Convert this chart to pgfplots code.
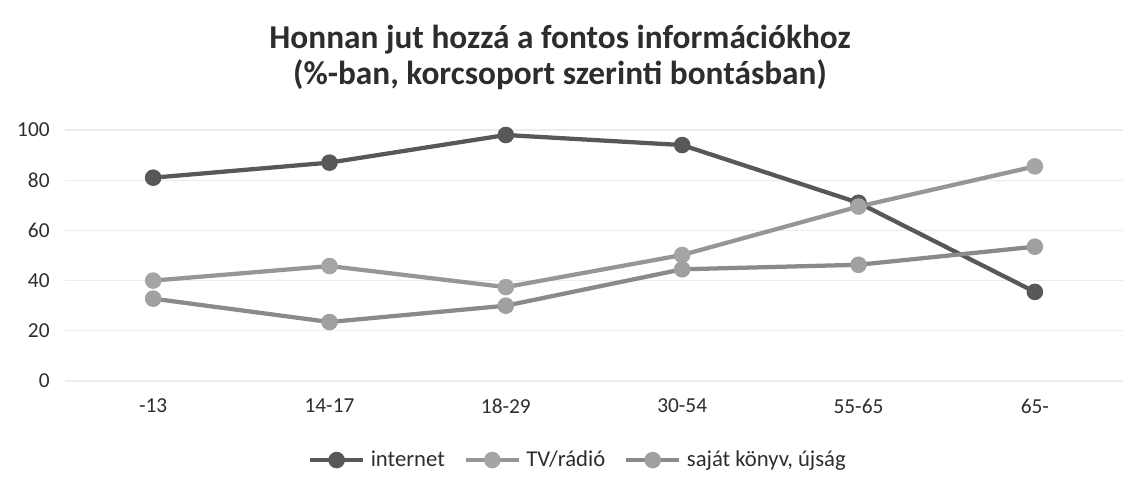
\documentclass[border=0pt]{standalone}
\usepackage{pgfplots}
\pgfplotsset{compat=1.18}
\usepackage{fontspec}
\setmainfont{Carlito}
\definecolor{txt}{RGB}{45,45,45}
\definecolor{cInt}{RGB}{88,88,88}
\definecolor{cTV}{RGB}{150,150,150}
\definecolor{cTVm}{RGB}{165,165,165}
\definecolor{cBook}{RGB}{138,138,138}
\definecolor{cBookm}{RGB}{160,160,160}
\definecolor{gridc}{RGB}{236,236,236}
\begin{document}
\begin{tikzpicture}
\path[use as bounding box] (-48.75pt,-80.25pt) rectangle (806.25pt,285.75pt);
\begin{axis}[
  at={(0pt,0pt)}, anchor=south west,
  scale only axis, width=793.5pt, height=188.25pt,
  xmin=-0.5, xmax=5.5, ymin=0, ymax=100,
  xtick={0,1,2,3,4,5},
  xticklabels={-13,14-17,18-29,30-54,55-65,65-},
  ytick={0,20,40,60,80,100},
  axis line style={draw=none},
  major tick length=0pt,
  ymajorgrids, xmajorgrids=false,
  major grid style={draw=gridc, line width=1pt},
  ticklabel style={font=\fontsize{16}{18}\selectfont, text=txt},
  /pgf/number format/assume math mode=true,
  yticklabel style={xshift=-8pt},
  xticklabel style={yshift=-10pt},
  legend style={at={(0.485,-0.315)}, anchor=center, draw=none, fill=none,
    font=\fontsize{17}{19}\selectfont, text=txt, column sep=12pt,
    /tikz/every odd column/.append style={column sep=2pt}},
  legend columns=3,
  legend cell align=left,
  legend image code/.code={\draw[#1, mark repeat=2, mark phase=2] plot coordinates {(0pt,0pt) (20pt,0pt) (40pt,0pt)};},
  clip=false,
]
\addplot[cInt, line width=3.2pt, mark=*, mark size=4.6pt, mark options={fill=cInt, draw=cInt}]
  coordinates {(0,81) (1,87) (2,98) (3,94) (4,71) (5,35.5)};
\addlegendentry{internet}
\addplot[cTV, line width=3.2pt, mark=*, mark size=4.6pt, mark options={fill=cTVm, draw=cTVm}]
  coordinates {(0,40) (1,45.8) (2,37.4) (3,50.2) (4,69.5) (5,85.5)};
\addlegendentry{TV/rádió}
\addplot[cBook, line width=3.2pt, mark=*, mark size=4.6pt, mark options={fill=cBookm, draw=cBookm}]
  coordinates {(0,32.8) (1,23.5) (2,30) (3,44.5) (4,46.3) (5,53.5)};
\addlegendentry{saját könyv, újság}
\end{axis}
\node[text=txt, font=\fontsize{25}{27}\selectfont\bfseries, align=center] at (371.25pt,242.5pt)
  {Honnan jut hozzá a fontos információkhoz\\(\%-ban, korcsoport szerinti bontásban)};
\end{tikzpicture}
\end{document}
